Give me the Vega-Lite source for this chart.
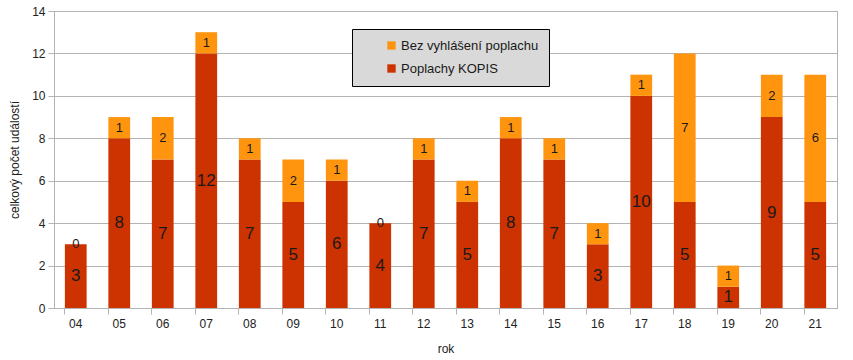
{
  "$schema": "https://vega.github.io/schema/vega-lite/v6.json",
  "width": 783,
  "height": 297,
  "autosize": "none",
  "padding": {"left": 54, "top": 11, "right": 16, "bottom": 52},
  "background": "white",
  "config": {
    "font": "Liberation Sans",
    "view": {"stroke": "#b3b3b3", "strokeWidth": 1},
    "axis": {"labelFont": "Liberation Sans", "titleFont": "Liberation Sans", "labelColor": "#222", "titleColor": "#222", "titleFontWeight": "normal", "labelFontSize": 12, "titleFontSize": 12}
  },
  "data": {
    "values": [
      {"rok": "04", "typ": "Poplachy KOPIS", "hodnota": 3},
      {"rok": "04", "typ": "Bez vyhlášení poplachu", "hodnota": 0},
      {"rok": "05", "typ": "Poplachy KOPIS", "hodnota": 8},
      {"rok": "05", "typ": "Bez vyhlášení poplachu", "hodnota": 1},
      {"rok": "06", "typ": "Poplachy KOPIS", "hodnota": 7},
      {"rok": "06", "typ": "Bez vyhlášení poplachu", "hodnota": 2},
      {"rok": "07", "typ": "Poplachy KOPIS", "hodnota": 12},
      {"rok": "07", "typ": "Bez vyhlášení poplachu", "hodnota": 1},
      {"rok": "08", "typ": "Poplachy KOPIS", "hodnota": 7},
      {"rok": "08", "typ": "Bez vyhlášení poplachu", "hodnota": 1},
      {"rok": "09", "typ": "Poplachy KOPIS", "hodnota": 5},
      {"rok": "09", "typ": "Bez vyhlášení poplachu", "hodnota": 2},
      {"rok": "10", "typ": "Poplachy KOPIS", "hodnota": 6},
      {"rok": "10", "typ": "Bez vyhlášení poplachu", "hodnota": 1},
      {"rok": "11", "typ": "Poplachy KOPIS", "hodnota": 4},
      {"rok": "11", "typ": "Bez vyhlášení poplachu", "hodnota": 0},
      {"rok": "12", "typ": "Poplachy KOPIS", "hodnota": 7},
      {"rok": "12", "typ": "Bez vyhlášení poplachu", "hodnota": 1},
      {"rok": "13", "typ": "Poplachy KOPIS", "hodnota": 5},
      {"rok": "13", "typ": "Bez vyhlášení poplachu", "hodnota": 1},
      {"rok": "14", "typ": "Poplachy KOPIS", "hodnota": 8},
      {"rok": "14", "typ": "Bez vyhlášení poplachu", "hodnota": 1},
      {"rok": "15", "typ": "Poplachy KOPIS", "hodnota": 7},
      {"rok": "15", "typ": "Bez vyhlášení poplachu", "hodnota": 1},
      {"rok": "16", "typ": "Poplachy KOPIS", "hodnota": 3},
      {"rok": "16", "typ": "Bez vyhlášení poplachu", "hodnota": 1},
      {"rok": "17", "typ": "Poplachy KOPIS", "hodnota": 10},
      {"rok": "17", "typ": "Bez vyhlášení poplachu", "hodnota": 1},
      {"rok": "18", "typ": "Poplachy KOPIS", "hodnota": 5},
      {"rok": "18", "typ": "Bez vyhlášení poplachu", "hodnota": 7},
      {"rok": "19", "typ": "Poplachy KOPIS", "hodnota": 1},
      {"rok": "19", "typ": "Bez vyhlášení poplachu", "hodnota": 1},
      {"rok": "20", "typ": "Poplachy KOPIS", "hodnota": 9},
      {"rok": "20", "typ": "Bez vyhlášení poplachu", "hodnota": 2},
      {"rok": "21", "typ": "Poplachy KOPIS", "hodnota": 5},
      {"rok": "21", "typ": "Bez vyhlášení poplachu", "hodnota": 6}
    ]
  },
  "transform": [
    {"stack": "hodnota", "groupby": ["rok"], "sort": [{"field": "typ", "order": "descending"}], "as": ["y0", "y1"]},
    {"calculate": "(datum.y0 + datum.y1) / 2", "as": "ymid"}
  ],
  "encoding": {
    "x": {
      "field": "rok", "type": "nominal", "title": "rok",
      "scale": {"paddingInner": 0.5, "paddingOuter": 0.25},
      "axis": {"labelAngle": 0, "bandPosition": 0, "domainColor": "#b3b3b3", "tickColor": "#b3b3b3", "tickSize": 6, "labelPadding": 4, "titlePadding": 14}
    }
  },
  "layer": [
    {
      "mark": {"type": "bar"},
      "encoding": {
        "y": {
          "field": "y0", "type": "quantitative", "title": "celkový počet událostí",
          "scale": {"domain": [0, 14]},
          "axis": {"values": [0, 2, 4, 6, 8, 10, 12, 14], "gridColor": "#b3b3b3", "domainColor": "#b3b3b3", "tickColor": "#b3b3b3", "tickSize": 6, "labelPadding": 3, "titlePadding": 10}
        },
        "y2": {"field": "y1"},
        "color": {
          "field": "typ", "type": "nominal",
          "scale": {"domain": ["Bez vyhlášení poplachu", "Poplachy KOPIS"], "range": ["#ff950e", "#cc3300"]},
          "legend": {
            "title": null, "orient": "none", "legendX": 298, "legendY": 18,
            "fillColor": "#d9d9d9", "strokeColor": "#000000", "padding": 10,
            "symbolType": "square", "symbolSize": 70, "symbolStrokeWidth": 0, "symbolOffset": 23,
            "labelOffset": 3,
            "labelFontSize": 13, "labelColor": "#1a1a1a", "labelFont": "Liberation Sans",
            "rowPadding": 9, "labelLimit": 400,
            "labelExpr": "datum.label + '\u00a0\u00a0\u00a0\u00a0\u00a0\u00a0\u00a0\u00a0\u00a0\u00a0\u00a0\u00a0\u00a0\u00a0'"
          }
        }
      }
    },
    {
      "mark": {"type": "text", "baseline": "middle", "align": "center", "color": "#1a1a1a", "font": "Liberation Sans"},
      "encoding": {
        "y": {"field": "ymid", "type": "quantitative"},
        "text": {"field": "hodnota", "type": "quantitative"},
        "size": {"condition": {"test": "datum.typ === 'Poplachy KOPIS'", "value": 17}, "value": 13}
      }
    }
  ]
}
